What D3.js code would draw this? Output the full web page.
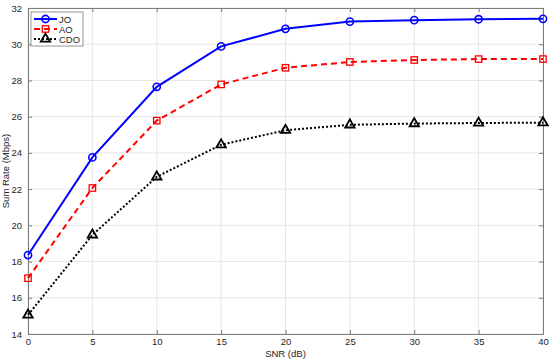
<!DOCTYPE html>
<html>
<head>
<meta charset="utf-8">
<script src="https://cdn.jsdelivr.net/npm/d3@7"></script>
<style>
 body { margin: 0; background: #fff; }
 text { font-family: "Liberation Sans", Arial, sans-serif; }
</style>
</head>
<body>
<div id="chart"></div>
<script>
// data
const snr = [0, 5, 10, 15, 20, 25, 30, 35, 40];
const jo  = [18.36, 23.75, 27.65, 29.88, 30.85, 31.25, 31.33, 31.38, 31.40];
const ao  = [17.08, 22.06, 25.78, 27.78, 28.70, 29.02, 29.13, 29.18, 29.18];
const cdo = [15.05, 19.47, 22.68, 24.45, 25.25, 25.55, 25.62, 25.65, 25.67];
const xTicks = [0, 5, 10, 15, 20, 25, 30, 35, 40];
const yTicks = [14, 16, 18, 20, 22, 24, 26, 28, 30, 32];

const W = 550, H = 361;
const margin = {top: 8, right: 7, bottom: 27, left: 28};
const width = W - margin.left - margin.right,
      height = H - margin.top - margin.bottom;

const svg = d3.select("#chart").append("svg")
  .attr("width", W).attr("height", H);
const g = svg.append("g")
  .attr("transform", `translate(${margin.left}, ${margin.top})`);

const x = d3.scaleLinear().domain([0, 40]).range([0, width]);
const y = d3.scaleLinear().domain([14, 32]).range([height, 0]);

// grid
g.append("g").selectAll("line").data(xTicks).join("line")
  .attr("x1", d => x(d)).attr("x2", d => x(d))
  .attr("y1", 0).attr("y2", height)
  .attr("stroke", "#e6e6e6").attr("stroke-width", 1);
g.append("g").selectAll("line").data(yTicks).join("line")
  .attr("y1", d => y(d)).attr("y2", d => y(d))
  .attr("x1", 0).attr("x2", width)
  .attr("stroke", "#e6e6e6").attr("stroke-width", 1);

// axes (ticks inward, box on)
const axColor = "#262626";
const xAxis = g.append("g").attr("transform", `translate(0, ${height})`)
  .call(d3.axisBottom(x).tickValues(xTicks).tickSizeInner(-4).tickSizeOuter(0).tickPadding(4));
const yAxis = g.append("g")
  .call(d3.axisLeft(y).tickValues(yTicks).tickSizeInner(-4).tickSizeOuter(0).tickPadding(6));
const xTop = g.append("g")
  .call(d3.axisTop(x).tickValues(xTicks).tickSizeInner(-4).tickSizeOuter(0).tickFormat(""));
const yRight = g.append("g").attr("transform", `translate(${width}, 0)`)
  .call(d3.axisRight(y).tickValues(yTicks).tickSizeInner(-4).tickSizeOuter(0).tickFormat(""));
[xAxis, yAxis, xTop, yRight].forEach(a => {
  a.selectAll("path, line").attr("stroke", "#7a7a7a");
  a.selectAll("text").attr("fill", axColor).style("font-size", "9.5px");
});

// axis titles
svg.append("text").attr("x", margin.left + width / 2).attr("y", H - 4)
  .attr("text-anchor", "middle").style("font-size", "9.5px").attr("fill", axColor)
  .text("SNR (dB)");
svg.append("text")
  .attr("transform", `translate(9, ${margin.top + height / 2}) rotate(-90)`)
  .attr("text-anchor", "middle").style("font-size", "9.5px").attr("fill", axColor)
  .text("Sum Rate (Mbps)");

const series = [
  {name: "JO",  vals: jo,  color: "#0000ff", dash: null,  marker: "circle"},
  {name: "AO",  vals: ao,  color: "#ff0000", dash: "6,4", marker: "square"},
  {name: "CDO", vals: cdo, color: "#000000", dash: "2,2", marker: "triangle"}
];

function drawMarker(sel, type, color) {
  if (type === "circle") {
    sel.append("circle").attr("r", 3.6)
      .attr("fill", "none").attr("stroke", color).attr("stroke-width", 1.6);
  } else if (type === "square") {
    sel.append("rect").attr("x", -3.2).attr("y", -3.2).attr("width", 6.4).attr("height", 6.4)
      .attr("fill", "none").attr("stroke", color).attr("stroke-width", 1.3);
  } else {
    sel.append("path").attr("d", d3.symbol(d3.symbolTriangle, 38)())
      .attr("fill", "none").attr("stroke", color).attr("stroke-width", 1.8);
  }
}

const line = d3.line().x((d, i) => x(snr[i])).y(d => y(d));

series.forEach(s => {
  g.append("path").datum(s.vals)
    .attr("fill", "none").attr("stroke", s.color).attr("stroke-width", 2)
    .attr("stroke-dasharray", s.dash)
    .attr("d", line);
  g.append("g").selectAll("g").data(s.vals).join("g")
    .attr("transform", (d, i) => `translate(${x(snr[i])}, ${y(d)})`)
    .each(function() { drawMarker(d3.select(this), s.marker, s.color); });
});

// legend
const leg = g.append("g").attr("transform", "translate(3, 4)");
leg.append("rect").attr("width", 52).attr("height", 34)
  .attr("fill", "#fff").attr("stroke", "#7a7a7a").attr("stroke-width", 0.8);
series.forEach((s, i) => {
  const row = leg.append("g").attr("transform", `translate(0, ${7 + i * 10})`);
  row.append("line").attr("x1", 3).attr("x2", 26).attr("y1", 0).attr("y2", 0)
    .attr("stroke", s.color).attr("stroke-width", 2).attr("stroke-dasharray", s.dash);
  const m = row.append("g").attr("transform", "translate(14.5, 0)");
  drawMarker(m, s.marker, s.color);
  row.append("text").attr("x", 28).attr("y", 3.5)
    .style("font-size", "9.5px").attr("fill", axColor).text(s.name);
});
</script>
</body>
</html>
